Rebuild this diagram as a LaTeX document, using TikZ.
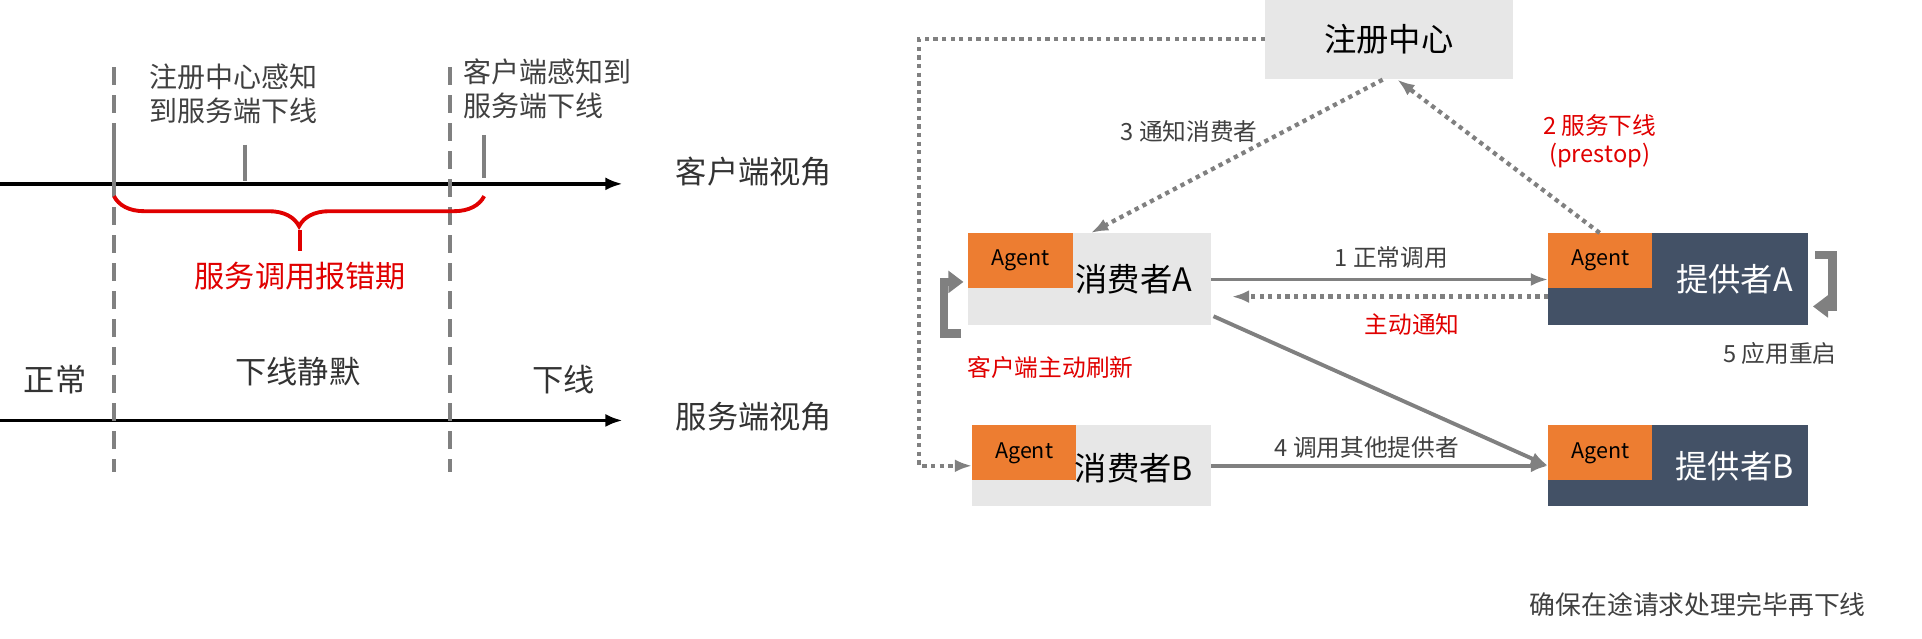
\documentclass[tikz,border=0pt]{standalone}
\usepackage{fontspec}
\setmainfont{Noto Sans CJK SC}
\usetikzlibrary{arrows.meta,decorations.pathreplacing}
\definecolor{lg}{HTML}{E7E7E7}
\definecolor{dk}{HTML}{435166}
\definecolor{og}{HTML}{ED7D31}
\definecolor{gr}{HTML}{808080}
\definecolor{rd}{HTML}{E00000}
\begin{document}
\begin{tikzpicture}[x=0.02cm,y=-0.02cm,
  txt/.style={font=\fontsize{14.5}{16}\selectfont, text=black!80},
  big/.style={font=\fontsize{15}{17}\selectfont},
  red/.style={text=rd, font=\fontsize{11}{13}\selectfont, align=center},
  lab/.style={font=\fontsize{11}{13}\selectfont, text=black!75, align=center},
  tl/.style={line width=1.6pt, -{Latex[length=8pt]}},
  vd/.style={gr, line width=1.8pt, dash pattern=on 8pt off 5pt},
  tick/.style={gr, line width=1.8pt},
  dot/.style={gr, line width=2pt, dash pattern=on 2pt off 2pt, -{Latex[length=8pt]}},
  sol/.style={gr, line width=1.8pt, -{Latex[length=8pt]}},
  agent/.style={fill=og, minimum width=1.7cm, minimum height=0.9cm, font=\fontsize{10}{12}\selectfont, inner sep=0pt, outer sep=0pt}]
\useasboundingbox (0,0) rectangle (1568,521);
% left part
\coordinate (c0) at (0,150); \coordinate (c1) at (508,150);
\coordinate (s0) at (0,343); \coordinate (s1) at (508,343);
\draw[tl] (c0) -- (c1);
\draw[tl] (s0) -- (s1);
\node[txt] (cv) at (615,140) {客户端视角};
\node[txt] (sv) at (615,340) {服务端视角};
\draw[vd] (93,55) -- (93,385);
\draw[vd] (367,55) -- (367,385);
\draw[tick] (93,115) -- (93,147);
\draw[tick] (200,118) -- (200,148);
\draw[tick] (395,110) -- (395,145);
\node[lab, align=left, anchor=north west, font=\fontsize{13}{15.5}\selectfont] (t1) at (116,46) {注册中心感知\\到服务端下线};
\node[lab, align=left, anchor=north west, font=\fontsize{13}{15.5}\selectfont] (t2) at (372,42) {客户端感知到\\服务端下线};
\draw[rd, line width=1.8pt, decorate, decoration={brace, amplitude=14pt}] (395,160) -- (93,160);
\draw[rd, line width=1.8pt] (245,188) -- (245,205);
\node[red, font=\fontsize{14}{16}\selectfont] (err) at (245,225) {服务调用报错期};
\node[txt] (n1) at (45,310) {正常};
\node[txt] (n2) at (243,303) {下线静默};
\node[txt] (n3) at (460,310) {下线};
% right part
\node[fill=lg, minimum width=4.04cm, minimum height=1.3cm, big, outer sep=0pt] (reg) at (1133,32) {注册中心};
\node[fill=lg, minimum width=3.96cm, minimum height=1.5cm, anchor=north west, outer sep=0pt] (ca) at (790,190) {};
\node[agent, anchor=north west] (caa) at (790,190) {Agent};
\node[big] at (925,228) {消费者A};
\node[fill=lg, minimum width=3.9cm, minimum height=1.32cm, anchor=north west, outer sep=0pt] (cb) at (793,347) {};
\node[agent, anchor=north west] (cba) at (793,347) {Agent};
\node[big] at (925,382) {消费者B};
\node[fill=dk, minimum width=4.24cm, minimum height=1.5cm, anchor=north west, outer sep=0pt] (pa) at (1263,190) {};
\node[agent, anchor=north west] (paa) at (1263,190) {Agent};
\node[big, text=white] at (1415,228) {提供者A};
\node[fill=dk, minimum width=4.24cm, minimum height=1.32cm, anchor=north west, outer sep=0pt] (pb) at (1263,347) {};
\node[agent, anchor=north west] (pba) at (1263,347) {Agent};
\node[big, text=white] at (1415,380) {提供者B};
% connectors
\draw[sol] (988,228) -- (1263,228);
\node[lab] at (1135,210) {1 正常调用};
\draw[dot] (1263,242) -- (1005,242);
\node[red] at (1152,265) {主动通知};
\draw[dot] (1305,190) -- (1140,65);
\node[red] at (1305,115) {2 服务下线\\(prestop)};
\draw[dot] (1128,65) -- (890,190);
\node[lab] at (970,107) {3 通知消费者};
\draw[dot] (1032,32) -- (750,32) -- (750,380) -- (793,380);
\draw[sol] (988,380) -- (1263,380);
\node[lab] at (1115,365) {4 调用其他提供者};
\draw[sol] (990,258) -- (1263,380);
\draw[gr, line width=4pt, -{Triangle[length=7pt,width=10pt]}] (784,272) -- (770,272) -- (770,230) -- (786,230);
\node[red] at (857,300) {客户端主动刷新};
\draw[gr, line width=4pt, -{Triangle[length=7pt,width=10pt]}] (1481,208) -- (1495,208) -- (1495,250) -- (1479,250);
\node[lab] at (1452,288) {5 应用重启};
\node[lab, font=\fontsize{12}{14}\selectfont] at (1385,493) {确保在途请求处理完毕再下线};
\end{tikzpicture}
\end{document}
